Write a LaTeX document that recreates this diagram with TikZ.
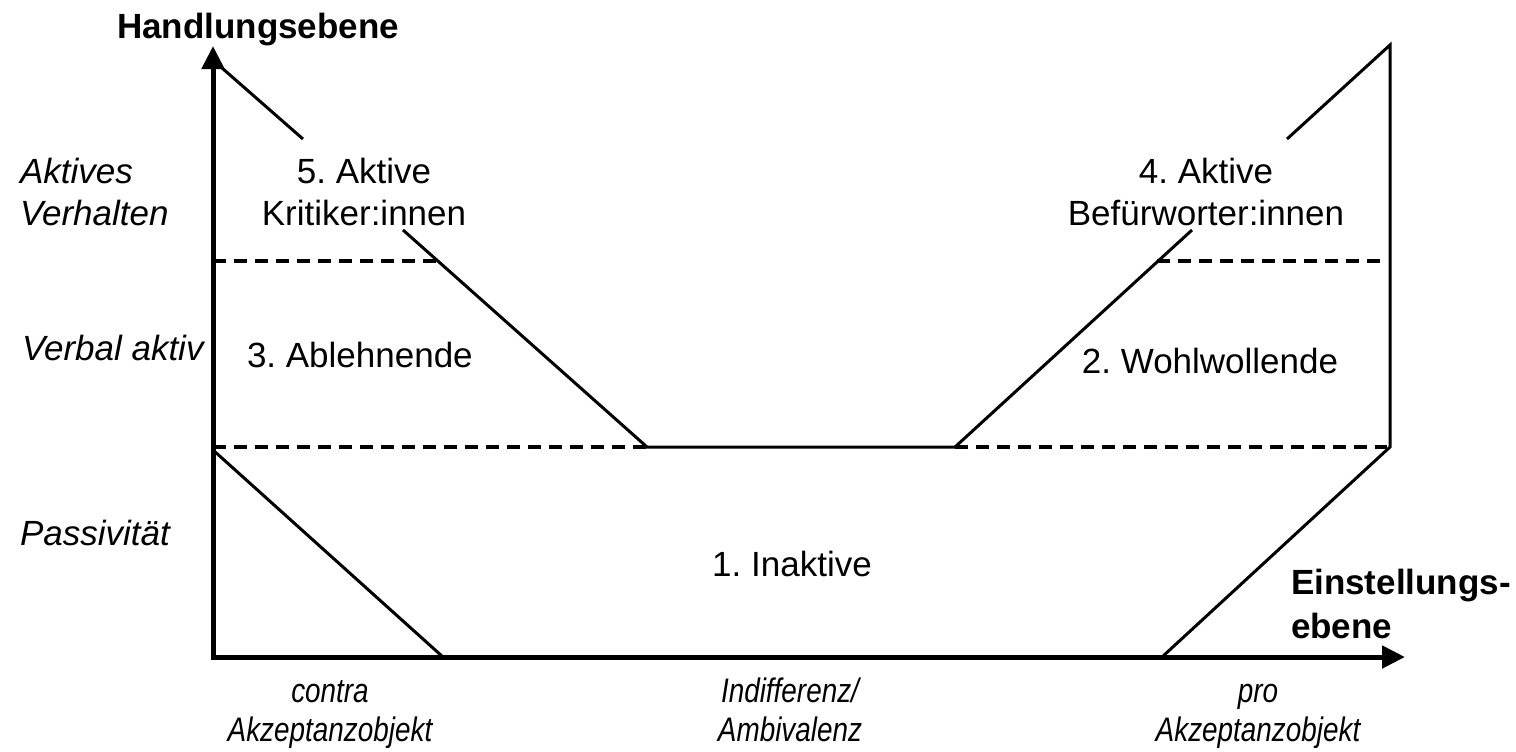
\documentclass[tikz,border=0pt]{standalone}
\usepackage{fontspec}
\setmainfont{Liberation Sans}
\newfontfamily\condfont[FakeStretch=0.82]{Liberation Sans}
\usetikzlibrary{arrows.meta}
\frenchspacing
\begin{document}
\begin{tikzpicture}[x=0.5pt,y=-0.5pt,
  axisline/.style={line width=2.5pt, line join=miter},
  solidline/.style={line width=1.5pt, line join=miter},
  dashline/.style={line width=1.6pt, dash pattern=on 6.5pt off 4pt},
  lbl/.style={inner sep=0pt, outer sep=0pt, font=\fontsize{17.5}{21}\selectfont},
  sidelbl/.style={inner sep=0pt, outer sep=0pt, align=left, font=\itshape\fontsize{17.5}{21}\selectfont},
  botlbl/.style={inner sep=0pt, outer sep=0pt, align=center, font=\condfont\itshape\fontsize{17}{19.5}\selectfont},
  axlbl/.style={inner sep=0pt, outer sep=0pt, align=left, font=\bfseries\fontsize{17.5}{22}\selectfont}
]
\useasboundingbox (0,0) rectangle (1516,751);

% coordinates
\coordinate (O) at (213,657);
\coordinate (ytip) at (213,46);
\coordinate (xtip) at (1405,657);
\coordinate (la) at (222,68);
\coordinate (lb) at (303,139);
\coordinate (lc) at (403,230);
\coordinate (ld) at (647,447);
\coordinate (rd) at (955,447);
\coordinate (rc) at (1192,230);
\coordinate (rb) at (1287,139);
\coordinate (ra) at (1390,45);
\coordinate (re) at (1390,447);
\coordinate (rf) at (1162,657);
\coordinate (lf) at (213,450);
\coordinate (lg) at (443,657);
\coordinate (d1a) at (213,261);
\coordinate (d1b) at (437,261);
\coordinate (d2a) at (1157,261);
\coordinate (d2b) at (1387,261);
\coordinate (d3a) at (213,447);
\coordinate (d4b) at (1387,447);

% axes
\draw[axisline, {Triangle[length=11.5pt,width=11pt]}-{Triangle[length=11.5pt,width=11pt]}] (ytip) -- (O) -- (xtip);

% dashed level lines
\draw[dashline] (d1a) -- (d1b);
\draw[dashline] (d2a) -- (d2b);
\draw[dashline] (d3a) -- (ld);
\draw[dashline] (rd) -- (d4b);

% solid boundaries
\draw[solidline] (la) -- (lb);
\draw[solidline] (lc) -- (ld) -- (rd) -- (rc);
\draw[solidline] (rb) -- (ra) -- (re) -- (rf);
\draw[solidline] (lf) -- (lg);

% axis titles
\node[axlbl, anchor=base west] (ytitle) at (117,38) {Handlungsebene};
\node[axlbl, anchor=north west] (xtitle) at (1291,569) {\vphantom{k}Einstellungs-\\ebene};

% left side labels
\node[sidelbl, anchor=north west] (s1) at (20,158) {\vphantom{k}Aktives\\Verhalten};
\node[sidelbl, anchor=base west] (s2) at (22,360) {Verbal aktiv};
\node[sidelbl, anchor=base west] (s3) at (20,545) {Passivität};

% region labels
\node[lbl, align=center, anchor=north] (g5) at (364,158) {\vphantom{k}5. Aktive\\Kritiker:innen};
\node[lbl, align=center, anchor=north] (g4) at (1206,158) {\vphantom{k}4. Aktive\\Befürworter:innen};
\node[lbl, anchor=base west] (g3) at (247,367) {3. Ablehnende};
\node[lbl, anchor=base] (g2) at (1210,373) {2. Wohlwollende};
\node[lbl, anchor=base] (g1) at (792,576) {1. Inaktive};

% bottom labels
\node[botlbl, anchor=north] (b1) at (330,678) {\vphantom{k}contra\\Akzeptanzobjekt};
\node[botlbl, anchor=north] (b2) at (790,678) {\vphantom{k}Indifferenz/\\Ambivalenz};
\node[botlbl, anchor=north] (b3) at (1258,678) {\vphantom{k}pro\\Akzeptanzobjekt};
\end{tikzpicture}
\end{document}
